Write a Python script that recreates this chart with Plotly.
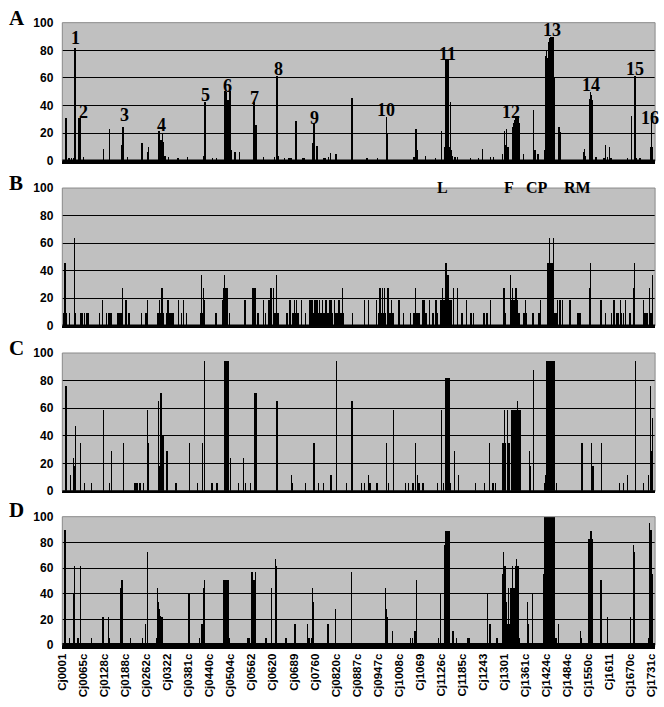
import plotly.graph_objects as go

# ---------------- data (gene order index along genome, % value) ----------------
tick_pos = [0, 60, 120, 180, 240, 300, 360, 420, 480, 540, 600, 660, 720, 780, 840,
            900, 960, 1020, 1080, 1140, 1200, 1260, 1320, 1380, 1440, 1500, 1560, 1620, 1680]
tick_labels = ["Cj0001", "Cj0065c", "Cj0128c", "Cj0188c", "Cj0262c", "Cj0322", "Cj0381c",
               "Cj0440c", "Cj0504c", "Cj0562", "Cj0620", "Cj0689", "Cj0760", "Cj0820c",
               "Cj0887c", "Cj0947c", "Cj1008c", "Cj1069", "Cj1126c", "Cj1185c", "Cj1243",
               "Cj1301", "Cj1361c", "Cj1424c", "Cj1484c", "Cj1550c", "Cj1611", "Cj1670c", "Cj1731c"]

panel_a = [(11,31),(20,2),(28,2),(32,2),(37,82),(48,31),(50,20),(53,31),(62,3),(119,9),(135,23),
    (169,12),(174,25),(186,3),(228,13),(243,7),(246,10),
    (276,15),(277,22),(278,15),(279,15),(280,15),(281,15),(282,15),(283,15),(284,14),(285,14),(286,14),(287,20),(288,14),
    (294,4),(304,3),(330,2),(332,2),(357,3),(404,4),(405,4),(406,4),(407,4),(408,43),(430,2),(440,2),
    (463,48),(464,51),(465,51),(466,50),(467,51),(468,50),(469,44),(470,44),(471,44),(472,44),(473,44),(474,44),(475,44),(476,44),(477,44),(479,51),
    (482,8),(492,7),(494,7),(506,7),(547,43),(553,26),(574,3),(605,3),(613,62),(615,48),(618,4),(635,2),(645,2),(650,2),(655,2),(667,29),(686,2),(690,2),
    (715,13),(716,13),(717,13),(718,28),(719,13),(727,11),(745,2),(750,2),(760,3),(765,6),(781,5),(827,46),(870,2),(900,2),(926,32),(927,20),
    (1004,3),(1006,3),(1009,23),(1014,8),(1036,4),(1064,2),(1082,22),
    (1092,10),(1093,74),(1094,74),(1095,74),(1096,74),(1097,74),(1098,74),(1099,74),(1100,74),(1101,74),(1102,72),(1104,10),(1108,43),(1110,8),(1112,4),
    (1120,3),(1128,3),(1165,2),(1188,2),(1198,9),(1222,3),(1230,3),(1256,5),(1261,22),(1263,10),(1265,12),(1268,23),(1272,10),
    (1285,20),(1286,25),(1287,25),(1288,28),(1289,25),(1290,28),(1291,30),(1292,28),(1293,32),(1294,33),(1295,33),(1296,30),(1297,33),(1298,33),(1299,32),(1300,33),(1301,30),(1302,33),(1303,28),(1304,25),(1305,20),
    (1315,5),(1344,37),(1349,8),(1357,5),
    (1377,8),(1379,8),(1380,76),(1381,78),(1382,80),(1383,75),(1384,72),(1385,70),(1386,74),(1387,80),(1388,86),(1389,88),(1390,88),(1391,89),(1392,89),(1393,90),(1394,90),(1395,90),(1396,90),(1397,90),(1398,90),(1399,90),(1400,90),(1401,88),(1402,60),(1403,60),(1404,55),(1405,10),
    (1417,25),(1421,21),(1488,7),(1490,9),(1492,4),
    (1505,45),(1506,48),(1507,50),(1508,48),(1509,46),(1510,44),(1511,44),(1512,44),(1513,44),
    (1522,3),(1545,2),(1550,12),(1555,3),(1560,10),(1565,2),(1612,2),(1624,33),(1634,62),(1636,2),(1648,2),(1677,10),(1680,35),(1683,10)]

panel_b = [(4,9.1),(7,9.1),(9,45.5),(12,9.1),(22,9.1),(35,63.6),(37,9.1),(52,9.1),(55,9.1),(57,9.1),(65,9.1),(69,9.1),(74,9.1),
    (107,9.1),(116,18.2),(126,9.1),(133,9.1),(136,9.1),(138,9.1),(141,9.1),(158,9.1),(161,9.1),(163,9.1),(168,9.1),(172,27.3),(182,18.2),(191,9.1),
    (227,9.1),(238,9.1),(240,9.1),(244,18.2),(273,9.1),(275,9.1),(278,18.2),(280,9.1),(283,27.3),(285,27.3),(287,9.1),(289,9.1),(299,9.1),(302,18.2),
    (308,9.1),(313,9.1),(316,9.1),(332,18.2),(341,9.1),(347,18.2),(355,9.1),(396,9.1),(397,36.4),(399,9.1),(400,9.1),(403,27.3),(405,18.2),(439,9.1),
    (458,18.2),(461,27.3),(462,27.3),(463,27.3),(464,36.4),(465,27.3),(466,27.3),(467,27.3),(468,27.3),(469,27.3),(470,27.3),(477,9.1),(522,18.2),
    (545,27.3),(546,27.3),(547,27.3),(548,27.3),(549,27.3),(550,27.3),(559,9.1),(575,18.2),(580,9.1),(589,18.2),(590,18.2),(592,18.2),(594,18.2),
    (596,27.3),(603,27.3),(606,9.1),(608,9.1),(610,9.1),(612,36.4),(614,9.1),(617,9.1),(641,9.1),(650,18.2),(659,9.1),(662,18.2),(665,9.1),(669,18.2),
    (673,9.1),(683,18.2),(694,9.1),(706,18.2),(708,18.2),(711,9.1),(713,18.2),(715,18.2),(718,9.1),(720,18.2),(722,18.2),(725,18.2),(727,9.1),
    (729,18.2),(732,9.1),(734,18.2),(737,9.1),(739,9.1),(743,18.2),(745,9.1),(748,9.1),(750,9.1),(753,18.2),(756,9.1),(758,9.1),(762,18.2),(765,9.1),
    (767,18.2),(770,9.1),(776,18.2),(779,9.1),(782,9.1),(786,9.1),(790,18.2),(793,9.1),(795,9.1),(800,27.3),(803,9.1),(828,9.1),(863,18.2),(873,18.2),
    (896,18.2),(903,9.1),(905,9.1),(907,27.3),(910,9.1),(914,27.3),(917,9.1),(920,27.3),(923,9.1),(929,27.3),(934,9.1),(936,9.1),(938,9.1),(940,18.2),
    (942,9.1),(945,9.1),(961,18.2),(973,9.1),(994,9.1),(1003,9.1),(1006,9.1),(1008,27.3),(1012,9.1),(1016,9.1),(1020,9.1),(1027,18.2),(1030,18.2),
    (1034,18.2),(1038,9.1),(1048,18.2),(1058,9.1),(1060,9.1),(1066,18.2),(1071,9.1),(1081,18.2),(1083,18.2),(1085,27.3),(1088,18.2),(1090,18.2),
    (1095,45.5),(1097,36.4),(1098,36.4),(1099,36.4),(1100,36.4),(1101,36.4),(1102,36.4),(1104,18.2),(1109,18.2),(1116,27.3),(1127,27.3),(1140,9.1),
    (1153,18.2),(1165,9.1),(1168,9.1),(1174,9.1),(1202,9.1),(1205,9.1),(1212,9.1),(1221,18.2),(1260,27.3),(1263,9.1),(1279,36.4),(1281,18.2),
    (1282,18.2),(1283,18.2),(1285,27.3),(1287,18.2),(1289,18.2),(1291,18.2),(1294,27.3),(1296,18.2),(1298,18.2),(1301,9.1),(1303,9.1),(1315,9.1),
    (1318,9.1),(1322,18.2),(1325,9.1),(1343,9.1),(1359,9.1),(1362,9.1),(1364,18.2),
    (1385,45.5),(1386,45.5),(1387,45.5),(1388,45.5),(1389,45.5),(1390,63.6),(1391,45.5),(1392,45.5),(1393,45.5),(1394,45.5),(1395,45.5),(1396,45.5),
    (1397,45.5),(1398,45.5),(1399,45.5),(1400,45.5),(1401,63.6),(1402,45.5),(1404,9.1),(1406,9.1),(1408,9.1),(1410,9.1),(1413,18.2),(1420,18.2),
    (1427,18.2),(1448,18.2),(1469,9.1),(1471,9.1),(1475,9.1),(1479,9.1),(1505,27.3),(1507,45.5),(1537,18.2),(1549,9.1),(1567,9.1),(1574,18.2),
    (1582,9.1),(1586,9.1),(1593,18.2),(1596,9.1),(1600,9.1),(1607,18.2),(1619,9.1),(1630,27.3),(1633,45.5),(1658,18.2),(1662,9.1),(1666,9.1),
    (1670,9.1),(1675,27.3),(1678,9.1),(1680,9.1),(1683,36.4)]

panel_c = [(11,76),(24,12),(32,24),(35,18),(38,47),(53,35),(65,6),(85,6),(119,59),(135,6),(142,29),(175,35),(208,6),(214,6),(222,6),(233,6),
    (243,35),(244,59),(246,35),(275,65),(277,18),(279,18),(282,71),(284,59),(286,41),(288,41),(299,29),(325,6),(364,35),(386,6),(400,35),(407,94),
    (428,6),(442,6),(463,94),(464,94),(465,94),(466,94),(467,94),(468,94),(469,94),(470,94),(471,94),(472,94),(473,94),(474,94),(475,94),
    (481,24),(503,6),(518,24),(523,6),(537,6),(549,71),(550,71),(551,71),(552,71),(553,71),(613,65),(655,12),(657,6),(694,6),(718,35),(720,35),
    (732,6),(745,6),(767,12),(783,94),(811,6),(827,65),(853,6),(863,6),(873,12),(878,6),(898,6),(926,35),(931,6),(945,59),(980,6),(987,6),
    (1001,6),(1008,35),(1013,12),(1018,6),(1029,6),(1071,6),(1082,59),(1088,6),
    (1095,82),(1096,82),(1097,82),(1098,82),(1099,82),(1100,82),(1101,82),(1102,82),(1103,82),(1104,71),(1107,6),(1119,29),(1130,12),
    (1179,6),(1204,6),(1218,35),(1229,6),(1235,6),(1257,35),(1258,35),(1261,59),(1263,35),(1271,59),(1274,35),
    (1282,59),(1283,59),(1284,59),(1285,59),(1286,59),(1287,59),(1288,59),(1289,59),(1290,59),(1291,59),(1292,59),(1293,59),(1294,59),(1295,59),
    (1296,59),(1297,59),(1298,59),(1299,65),(1300,59),(1301,59),(1302,59),(1303,59),(1304,59),(1305,59),(1306,59),(1307,59),(1308,59),
    (1332,29),(1335,18),(1344,88),(1376,6),(1380,12),(1383,94),(1384,94),(1385,82),(1386,94),(1387,94),(1388,94),(1389,94),(1390,94),(1391,94),
    (1392,94),(1393,94),(1394,94),(1395,94),(1396,94),(1397,94),(1398,94),(1399,94),(1400,94),(1401,94),(1402,94),(1403,94),(1404,94),
    (1410,6),(1483,35),(1509,35),(1511,18),(1514,18),(1539,35),(1589,6),(1600,6),(1612,12),(1635,94),(1658,6),(1672,12),(1678,76),(1681,29),(1683,53)]

panel_d = [(9,90),(22,6),(34,40),(36,62),(46,6),(52,62),(53,28),(85,6),(117,22),(133,22),(135,6),(167,45),(171,51),(173,40),(196,6),
    (229,6),(238,17),(243,73),(244,57),(269,6),(273,45),(275,34),(277,28),(279,23),(281,22),(283,12),(285,22),(362,40),(392,6),(399,17),(405,45),(406,51),
    (461,51),(462,51),(463,51),(464,51),(465,51),(466,51),(467,51),(468,51),(469,51),(470,51),(471,51),(472,51),(473,51),(474,51),(475,51),(477,6),
    (528,6),(529,6),(530,6),(531,6),(532,6),(533,6),(534,6),(535,6),(542,57),(544,57),(546,51),(548,51),(550,51),(552,57),
    (582,6),(598,45),(608,67),(610,62),(612,62),(639,6),(664,17),(699,17),(701,6),(706,6),(711,6),(714,45),(716,34),(758,17),(779,28),
    (825,57),(923,45),(925,28),(928,22),(942,11),(994,6),(999,6),(1006,11),(1011,51),(1073,6),(1079,40),
    (1092,78),(1093,89),(1094,89),(1095,89),(1096,89),(1097,89),(1098,89),(1099,89),(1100,89),(1101,89),(1102,89),(1103,89),(1104,89),
    (1115,11),(1125,6),(1157,6),(1160,6),(1214,40),(1220,17),(1240,6),
    (1256,56),(1258,40),(1259,73),(1261,62),(1263,62),(1265,34),(1267,34),(1270,17),(1272,17),(1273,45),(1275,17),(1277,17),(1279,45),(1281,45),
    (1283,45),(1285,62),(1287,45),(1288,45),(1290,45),(1292,62),(1294,45),(1296,67),(1298,45),(1300,62),(1302,45),(1304,6),
    (1327,34),(1329,17),(1341,40),(1374,56),(1376,34),
    (1377,100),(1378,100),(1379,100),(1380,100),(1381,100),(1382,100),(1383,100),(1384,100),(1385,100),(1386,100),(1387,100),(1388,100),(1389,100),
    (1390,100),(1391,100),(1392,100),(1393,100),(1394,100),(1395,100),(1396,100),(1397,100),(1398,100),(1399,100),(1400,100),(1401,100),(1402,100),
    (1403,100),(1404,50),(1408,6),(1416,17),(1479,11),(1481,6),(1502,83),(1504,83),(1506,83),(1508,89),(1509,89),(1511,83),(1513,11),
    (1537,51),(1555,22),(1621,22),(1630,78),(1633,73),(1673,6),(1675,95),(1677,90),(1680,90),(1682,56),(1684,28)]

peak_numbers = ["1","2","3","4","5","6","7","8","9","10","11","12","13","14","15","16"]
region_labels = ["L", "F", "CP", "RM"]
panel_letters = ["A", "B", "C", "D"]

# ---------------- layout geometry ----------------
W, H = 664, 707
X_LEFT, X_RIGHT = 57, 657
panel_px = [(16, 157), (184.7, 325), (353, 494), (520, 651)]   # (top=100, bottom=0) pixel rows
base_lw = [3, 2, 2, 4]
XMAX = 1690

def fy(py):
    return 1 - py / H

fig = go.Figure()
panels = [panel_a, panel_b, panel_c, panel_d]
layout = dict(width=W, height=H, autosize=False, margin=dict(l=0, r=0, t=0, b=0),
              paper_bgcolor="white", plot_bgcolor="#c0c0c0", bargap=0, showlegend=False,
              font=dict(family="Liberation Sans", color="black"))
shapes = []
for i, data in enumerate(panels):
    n = "" if i == 0 else str(i + 1)
    fig.add_trace(go.Bar(x=[g for g, v in data], y=[v for g, v in data], width=1,
                         xaxis="x" + n, yaxis="y" + n,
                         marker=dict(color="black", line=dict(width=0)), hoverinfo="skip"))
    top, bot = panel_px[i]
    layout["xaxis" + n] = dict(domain=[X_LEFT / W, X_RIGHT / W], range=[0, XMAX], anchor="y" + n,
                               showgrid=False, zeroline=False, showline=True, linecolor="black",
                               linewidth=base_lw[i], ticks="", tickvals=tick_pos,
                               ticktext=tick_labels, showticklabels=(i == 3), tickangle=-90,
                               tickfont=dict(family="Liberation Sans", size=11.5, weight="bold"))
    layout["yaxis" + n] = dict(domain=[fy(bot), fy(top)], range=[0, 100], anchor="x" + n,
                               tickvals=[0, 20, 40, 60, 80, 100], showgrid=True, gridcolor="black",
                               gridwidth=1, zeroline=False, showline=False, ticks="",
                               ticklabelstandoff=8,
                               tickfont=dict(family="Liberation Sans", size=12, weight="bold"))
    shapes.append(dict(type="rect", xref="x" + n + " domain", yref="y" + n + " domain",
                       x0=0, x1=1, y0=0, y1=1, line=dict(color="#8a8a8a", width=1), layer="above"))
    shapes.append(dict(type="line", xref="x" + n + " domain", yref="y" + n + " domain",
                       x0=0, x1=1, y0=0, y1=0, line=dict(color="black", width=base_lw[i]), layer="above"))
layout["shapes"] = shapes

ann = []
peak_pos = [(37, 89), (60, 35.5), (177, 33.3), (282, 25.8), (407, 47.5), (472, 54), (548, 45.2),
            (615, 66.4), (720, 31), (923, 36.9), (1099, 77), (1280, 35.7), (1396, 94.8),
            (1508, 54.6), (1633, 66.4), (1675, 31)]
for t, (px, py) in zip(peak_numbers, peak_pos):
    ann.append(dict(text=t, x=px, y=py, xref="x", yref="y", showarrow=False,
                    font=dict(family="Liberation Serif", size=18, weight="bold", color="black")))
region_x = [449, 516, 551, 594]
for t, rx in zip(region_labels, region_x):
    ann.append(dict(text=t, x=rx / W, y=fy(173), xref="paper", yref="paper", showarrow=False,
                    font=dict(family="Liberation Serif", size=16, weight="bold", color="black")))
letter_y = [11.5, 179.5, 347.5, 513.5]
for t, ly in zip(panel_letters, letter_y):
    ann.append(dict(text=t, x=1 / W, y=fy(ly), xref="paper", yref="paper", xanchor="left",
                    yanchor="middle", showarrow=False,
                    font=dict(family="Liberation Serif", size=21, weight="bold", color="black")))
layout["annotations"] = ann

fig.update_layout(**layout)
page_fix = ("document.documentElement.style.margin='0';document.documentElement.style.padding='0';"
            "document.body.style.margin='0';document.body.style.padding='0';"
            "document.documentElement.style.overflow='hidden';document.body.style.overflow='hidden';")
fig.write_html("out.html", post_script=page_fix, config={"displayModeBar": False, "staticPlot": False})
